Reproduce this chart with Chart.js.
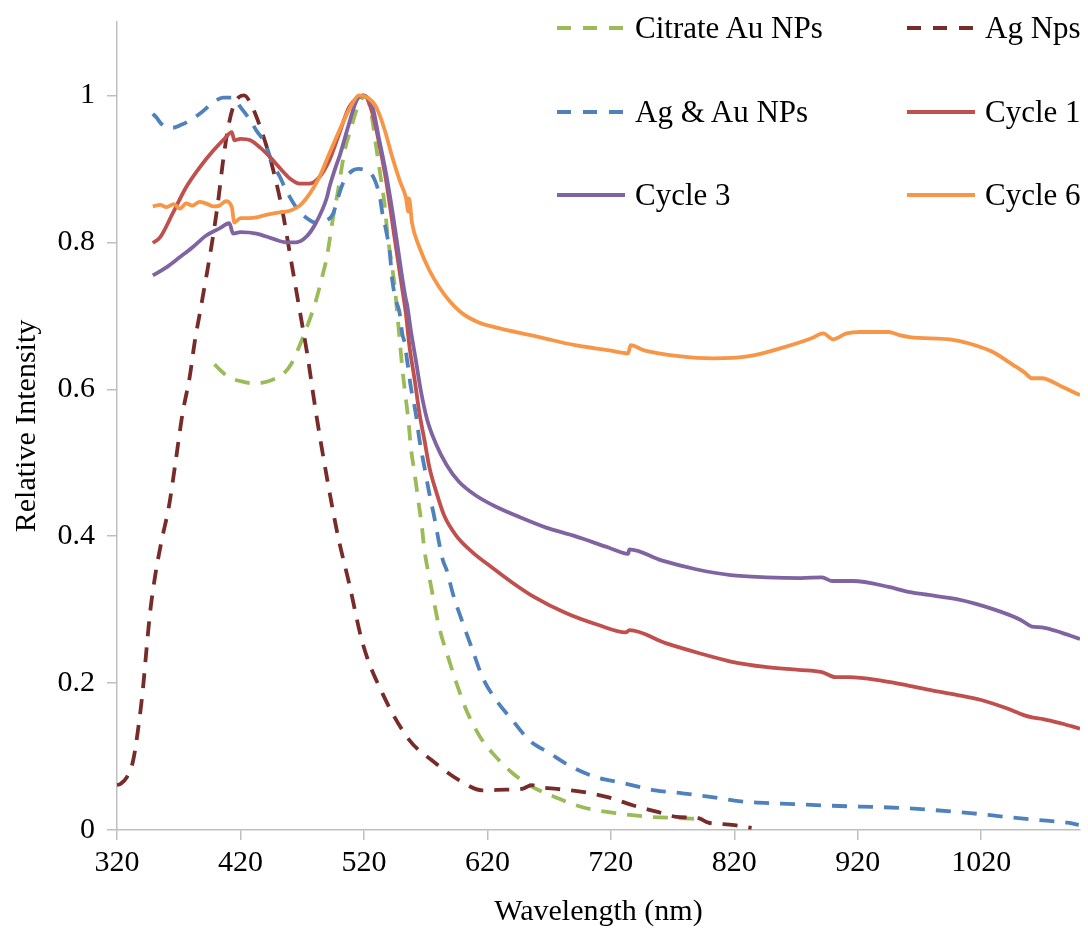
<!DOCTYPE html>
<html>
<head>
<meta charset="utf-8">
<title>Relative Intensity vs Wavelength</title>
<script src="https://cdn.jsdelivr.net/npm/chart.js@4.4.0/dist/chart.umd.min.js"></script>
<style>
    body { margin: 0; background: #fff; }
    #wrap { position: relative; width: 1088px; height: 932px; }
    #legend .item {
        position: absolute;
        height: 40px;
        display: flex;
        align-items: center;
        font-family: "Liberation Serif", "Times New Roman", serif;
        font-size: 31px;
        color: #000;
        white-space: nowrap;
    }
    #legend svg { margin-right: 10px; }
</style>
</head>
<body>
<div id="wrap">
    <canvas id="spectra" width="1088" height="932"></canvas>
    <div id="legend"></div>
</div>
<script>
// Axis ticks
const xTicks = [320, 420, 520, 620, 720, 820, 920, 1020];
const yTicks = [0, 0.2, 0.4, 0.6, 0.8, 1];

// Citrate Au NPs
const citrateX = [399, 403, 410, 420, 430, 438, 446, 454, 461, 468, 475, 481, 486, 490, 495, 499, 502, 505, 509, 514, 519, 522, 526, 530, 534, 537, 539, 542, 545, 547, 549, 551, 553, 556, 558, 561, 564, 567, 569, 573, 581, 589, 595, 603, 614, 624, 640, 656, 676, 697, 724, 751, 778, 791];
const citrateY = [0.634, 0.627, 0.617, 0.611, 0.608, 0.609, 0.613, 0.620, 0.634, 0.660, 0.690, 0.720, 0.752, 0.780, 0.834, 0.870, 0.902, 0.929, 0.952, 0.980, 0.997, 0.998, 0.975, 0.929, 0.884, 0.848, 0.812, 0.776, 0.739, 0.703, 0.667, 0.630, 0.600, 0.558, 0.521, 0.486, 0.449, 0.412, 0.381, 0.344, 0.276, 0.231, 0.200, 0.163, 0.127, 0.105, 0.078, 0.059, 0.044, 0.031, 0.023, 0.018, 0.016, 0.015];

// Ag Nps
const agX = [320, 323, 328, 333, 337, 341, 344, 347, 351, 356, 362, 367, 373, 379, 383, 388, 397, 402, 406, 410, 414, 419, 423, 428, 432, 440, 446, 454, 460, 468, 474, 481, 490, 499, 508, 519, 535, 557, 575, 597, 616, 635, 648, 656, 664, 676, 697, 719, 737, 757, 773, 791, 799, 810, 818, 834];
const agY = [0.061, 0.063, 0.072, 0.094, 0.136, 0.192, 0.248, 0.299, 0.347, 0.393, 0.440, 0.496, 0.566, 0.618, 0.665, 0.712, 0.800, 0.857, 0.912, 0.956, 0.984, 0.998, 1.000, 0.990, 0.975, 0.937, 0.902, 0.843, 0.785, 0.707, 0.649, 0.570, 0.480, 0.400, 0.336, 0.254, 0.186, 0.122, 0.095, 0.068, 0.054, 0.055, 0.056, 0.061, 0.058, 0.056, 0.052, 0.044, 0.034, 0.025, 0.018, 0.016, 0.010, 0.008, 0.007, 0.003];

// Ag & Au NPs
const agAuX = [349, 352, 355, 360, 365, 372, 379, 387, 397, 406, 414, 420, 428, 433, 440, 446, 452, 457, 465, 473, 481, 490, 495, 499, 504, 511, 516, 520, 525, 529, 533, 535, 538, 541, 543, 546, 549, 551, 553, 555, 558, 562, 565, 569, 573, 577, 581, 584, 587, 592, 600, 608, 616, 627, 640, 654, 670, 686, 708, 730, 756, 778, 805, 820, 832, 858, 899, 955, 1011, 1039, 1070, 1090, 1099];
const agAuY = [0.975, 0.970, 0.963, 0.957, 0.956, 0.960, 0.966, 0.975, 0.989, 0.997, 0.997, 0.984, 0.966, 0.952, 0.935, 0.907, 0.889, 0.871, 0.848, 0.834, 0.827, 0.830, 0.839, 0.861, 0.884, 0.898, 0.900, 0.899, 0.895, 0.884, 0.861, 0.839, 0.816, 0.785, 0.748, 0.721, 0.703, 0.676, 0.663, 0.639, 0.603, 0.567, 0.531, 0.494, 0.458, 0.426, 0.390, 0.367, 0.354, 0.322, 0.282, 0.245, 0.208, 0.177, 0.150, 0.122, 0.105, 0.088, 0.072, 0.064, 0.054, 0.050, 0.044, 0.040, 0.038, 0.036, 0.033, 0.030, 0.023, 0.018, 0.013, 0.010, 0.007];

// Cycle 1
const cycle1X = [349, 355, 365, 376, 387, 398, 407, 413, 415, 420, 428, 436, 444, 452, 460, 468, 476, 484, 492, 500, 508, 515, 520, 527, 533, 538, 542, 546, 550, 554, 557, 561, 565, 569, 573, 579, 585, 595, 608, 624, 640, 657, 684, 710, 732, 735, 765, 791, 818, 845, 872, 891, 902, 913, 940, 960, 980, 1000, 1020, 1040, 1055, 1062, 1070, 1085, 1100];
const cycle1Y = [0.799, 0.807, 0.839, 0.875, 0.902, 0.925, 0.941, 0.950, 0.939, 0.941, 0.939, 0.929, 0.916, 0.901, 0.887, 0.880, 0.880, 0.889, 0.912, 0.948, 0.984, 0.997, 1.000, 0.975, 0.929, 0.884, 0.839, 0.793, 0.748, 0.703, 0.657, 0.614, 0.567, 0.531, 0.494, 0.458, 0.428, 0.400, 0.378, 0.357, 0.337, 0.318, 0.295, 0.279, 0.269, 0.272, 0.254, 0.241, 0.229, 0.222, 0.218, 0.215, 0.208, 0.208, 0.203, 0.197, 0.190, 0.184, 0.177, 0.166, 0.156, 0.153, 0.151, 0.145, 0.138];

// Cycle 3
const cycle3X = [349, 360, 371, 381, 392, 403, 411, 414, 420, 433, 446, 457, 465, 473, 481, 490, 492, 498, 500, 508, 514, 519, 527, 532, 538, 543, 547, 551, 554, 555, 558, 562, 566, 571, 578, 587, 597, 611, 627, 646, 667, 691, 719, 734, 735, 761, 789, 817, 846, 874, 891, 899, 916, 945, 959, 973, 1001, 1029, 1052, 1061, 1069, 1086, 1100];
const cycle3Y = [0.755, 0.766, 0.780, 0.793, 0.809, 0.819, 0.826, 0.812, 0.814, 0.812, 0.805, 0.800, 0.800, 0.807, 0.826, 0.861, 0.875, 0.907, 0.916, 0.962, 0.993, 1.000, 0.984, 0.943, 0.893, 0.843, 0.798, 0.752, 0.722, 0.715, 0.680, 0.640, 0.599, 0.560, 0.527, 0.497, 0.474, 0.455, 0.440, 0.426, 0.412, 0.400, 0.384, 0.376, 0.382, 0.367, 0.355, 0.347, 0.344, 0.343, 0.344, 0.339, 0.339, 0.331, 0.325, 0.321, 0.314, 0.301, 0.286, 0.277, 0.276, 0.268, 0.260];

// Cycle 6
const cycle6X = [349, 355, 360, 366, 371, 376, 381, 387, 392, 398, 403, 408, 413, 415, 420, 427, 433, 440, 446, 453, 460, 468, 476, 484, 492, 500, 509, 516, 523, 530, 537, 543, 549, 554, 556, 556.5, 559, 565, 573, 581, 589, 600, 613, 630, 654, 662, 691, 719, 734, 736, 747, 775, 803, 832, 860, 882, 892, 900, 911, 922, 945, 953, 962, 998, 1015, 1029, 1046, 1055, 1061, 1069, 1086, 1100];
const cycle6Y = [0.849, 0.851, 0.848, 0.852, 0.846, 0.853, 0.850, 0.855, 0.853, 0.849, 0.850, 0.856, 0.848, 0.827, 0.833, 0.833, 0.834, 0.837, 0.839, 0.841, 0.843, 0.850, 0.866, 0.889, 0.921, 0.952, 0.984, 1.000, 0.997, 0.984, 0.952, 0.916, 0.884, 0.861, 0.842, 0.860, 0.826, 0.793, 0.762, 0.739, 0.721, 0.703, 0.691, 0.683, 0.674, 0.671, 0.660, 0.653, 0.649, 0.660, 0.653, 0.645, 0.642, 0.645, 0.657, 0.669, 0.676, 0.668, 0.676, 0.678, 0.678, 0.674, 0.671, 0.667, 0.660, 0.651, 0.633, 0.623, 0.615, 0.615, 0.603, 0.592];

// Series list (legend order)
const seriesNames = ['Citrate Au NPs', 'Ag Nps', 'Ag & Au NPs', 'Cycle 1', 'Cycle 3', 'Cycle 6'];
const seriesColors = ['#9BBB59', '#772C2A', '#4F81BD', '#C0504D', '#8064A2', '#F79646'];
const seriesDashed = [true, true, true, false, false, false];
const seriesXs = [citrateX, agX, agAuX, cycle1X, cycle3X, cycle6X];
const seriesYs = [citrateY, agY, agAuY, cycle1Y, cycle3Y, cycle6Y];

const FONT = '"Liberation Serif", "Times New Roman", serif';
const AXIS_GRAY = '#BFBFBF';

function toPoints(xs, ys) {
    return xs.map((x, i) => ({ x: x, y: ys[i] }));
}

const datasets = seriesNames.map((name, i) => ({
    label: name,
    data: toPoints(seriesXs[i], seriesYs[i]),
    borderColor: seriesColors[i],
    backgroundColor: seriesColors[i],
    borderWidth: 3.8,
    borderDash: seriesDashed[i] ? [15, 11] : [],
    pointRadius: 0,
    cubicInterpolationMode: 'monotone',
    fill: false,
    // later series on top, like the original
    order: seriesNames.length - i
}));

new Chart(document.getElementById('spectra').getContext('2d'), {
    type: 'line',
    data: { datasets: datasets },
    options: {
        responsive: false,
        animation: false,
        devicePixelRatio: 1,
        layout: { padding: { top: 22, right: 8, left: 0, bottom: 0 } },
        plugins: {
            legend: { display: false },
            tooltip: { enabled: false }
        },
        scales: {
            x: {
                type: 'linear',
                min: 320,
                max: 1100,
                afterFit: function (scale) {
                    scale.height = 102;
                    scale.paddingLeft = 0;
                    scale.paddingRight = 0;
                },
                afterBuildTicks: function (scale) {
                    scale.ticks = xTicks.map(v => ({ value: v }));
                },
                grid: {
                    drawOnChartArea: false,
                    drawTicks: true,
                    tickLength: 10,
                    color: AXIS_GRAY,
                    lineWidth: 1.5
                },
                border: { color: AXIS_GRAY, width: 1.5 },
                ticks: {
                    color: '#000',
                    padding: 5,
                    maxRotation: 0,
                    font: { family: FONT, size: 30 },
                    callback: function (value) { return String(value); }
                },
                title: {
                    display: true,
                    text: 'Wavelength (nm)',
                    color: '#000',
                    font: { family: FONT, size: 30 },
                    padding: { top: 0, bottom: 2 }
                }
            },
            y: {
                type: 'linear',
                min: 0,
                max: 1.1,
                afterFit: function (scale) {
                    scale.width = 117;
                    scale.paddingTop = 0;
                    scale.paddingBottom = 0;
                },
                afterBuildTicks: function (scale) {
                    scale.ticks = yTicks.map(v => ({ value: v }));
                },
                grid: {
                    drawOnChartArea: false,
                    drawTicks: true,
                    tickLength: 10,
                    color: AXIS_GRAY,
                    lineWidth: 1.5
                },
                border: { color: AXIS_GRAY, width: 1.5 },
                ticks: {
                    color: '#000',
                    padding: 12,
                    font: { family: FONT, size: 30 },
                    callback: function (value) { return String(Math.round(value * 10) / 10); }
                },
                title: {
                    display: true,
                    text: 'Relative Intensity',
                    color: '#000',
                    font: { family: FONT, size: 30 },
                    padding: { top: 9, bottom: 0 }
                }
            }
        }
    }
});

// Legend: two columns, three rows, top right inside the plot
const legendCols = [557, 907];
const legendRows = [28, 112, 195];
const legend = document.getElementById('legend');
seriesNames.forEach((name, i) => {
    const item = document.createElement('div');
    item.className = 'item';
    item.style.left = legendCols[i % 2] + 'px';
    item.style.top = (legendRows[Math.floor(i / 2)] - 20) + 'px';
    const dash = seriesDashed[i] ? ' stroke-dasharray="14 12"' : '';
    item.innerHTML = '<svg width="68" height="8"><line x1="0" y1="4" x2="68" y2="4" stroke="' +
        seriesColors[i] + '" stroke-width="3.8"' + dash + '/></svg><span>' +
        name.replace('&', '&amp;') + '</span>';
    legend.appendChild(item);
});
</script>
</body>
</html>
